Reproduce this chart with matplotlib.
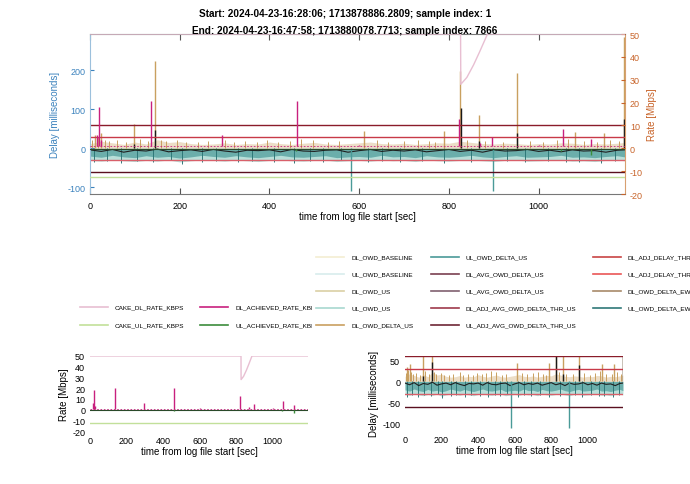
import matplotlib
matplotlib.use('Agg')
import matplotlib.pyplot as plt
import numpy as np

plt.rcParams['font.family'] = ['Liberation Sans', 'DejaVu Sans']
plt.rcParams['axes.unicode_minus'] = False

# ---- data ----
T_END = 1192.5

cake_dl_t = [0, 826, 826.5, 840, 855, 868, 886, T_END]
cake_dl_v = [50, 50, 28, 31, 36.5, 42, 50, 50]
cake_ul_v = -12.5

dl_ach_base = 0.8
dl_ach_t = [15, 20, 25, 136, 294, 461, 600, 822, 870, 895, 1000, 1055, 1116]
dl_ach_v = [6, 18, 3.5, 20.5, 5.7, 20.5, 1.5, 13, 2.5, 5, 1.5, 8.3, 4]
ul_ach_base = -0.2
ul_ach_t = [460, 1050, 1116]
ul_ach_v = [-1, -1.2, -3]

thr_dl_avg = 60      # DL_ADJ_AVG_OWD_DELTA_THR_US
thr_dl = 30          # DL_ADJ_DELAY_THR
thr_ul = -30         # UL_ADJ_DELAY_THR
thr_ul_avg = -60     # UL_ADJ_AVG_OWD_DELTA_THR_US

band_t = [0, 25, 50, 75, 100, 125, 150, 175, 200, 225, 250, 275, 300, 325, 350,
          375, 400, 425, 450, 475, 500, 525, 550, 575, 600, 625, 650, 675, 700,
          725, 750, 775, 800, 825, 850, 875, 900, 925, 950, 975, 1000, 1025,
          1050, 1075, 1100, 1125, 1150, 1175, 1192]
dl_delta_top = [12, 18, 14, 10, 16, 11, 22, 15, 17, 12, 10, 11, 14, 10, 12, 11,
                16, 12, 10, 13, 15, 11, 10, 12, 14, 16, 12, 11, 13, 10, 12, 14,
                13, 18, 15, 12, 11, 13, 12, 10, 12, 11, 14, 13, 10, 12, 11, 13, 15]
ul_delta_bot = [-20, -23, -18, -22, -24, -19, -23, -21, -25, -22, -18, -21, -23,
                -19, -22, -24, -21, -18, -22, -23, -21, -19, -24, -22, -21, -23,
                -18, -22, -21, -24, -19, -22, -23, -21, -18, -22, -24, -21, -19,
                -23, -22, -21, -18, -23, -22, -24, -21, -19, -22]
ul_us_bot = [-31, -33, -30, -32, -34, -31, -33, -30, -35, -32, -30, -31, -33, -30,
             -32, -34, -31, -30, -32, -33, -31, -30, -34, -32, -31, -33, -30, -32,
             -31, -34, -30, -32, -33, -31, -30, -32, -34, -31, -30, -33, -32, -31,
             -30, -33, -32, -34, -31, -30, -32]
dl_avg = [-4, -8, -3, -10, -5, -7, -2, -9, -6, -4, -8, -3, -7, -10, -5, -6, -4,
          -9, -3, -7, -8, -5, -4, -10, -6, -3, -8, -5, -7, -4, -9, -6, -3, -8,
          -5, -10, -4, -7, -6, -3, -8, -5, -9, -4, -7, -6, -10, -5, -4]

# small spikes in the delay band
small_up_t = [5, 18, 33, 42, 60, 80, 112, 130, 158, 170, 195, 215, 240, 262, 300,
              320, 345, 372, 395, 420, 445, 470, 498, 530, 555, 640, 665, 700, 730,
              755, 770, 840, 880, 920, 980, 1010, 1040, 1065, 1100, 1130, 1160, 1180]
small_up_v = [20, 28, 22, 18, 20, 16, 24, 18, 22, 18, 20, 16, 15, 18, 22, 16, 18,
              15, 20, 17, 19, 24, 22, 16, 18, 20, 17, 19, 21, 18, 16, 22, 18, 17,
              19, 16, 20, 24, 18, 17, 22, 18]
small_dn_t = [10, 38, 70, 105, 140, 180, 205, 250, 280, 330, 360, 410, 455, 490,
              520, 560, 620, 650, 690, 740, 790, 850, 930, 970, 1020, 1060, 1090,
              1140, 1170]
small_dn_v = [-36, -32, -38, -33, -35, -31, -40, -34, -32, -36, -33, -35, -37, -32,
              -34, -31, -36, -33, -35, -32, -38, -34, -33, -36, -32, -35, -34, -37, -33]

dl_spk_t = [12, 25, 98, 145, 610, 788, 824, 866, 951, 1080, 1145, 1190]
dl_spk_v = [35, 40, 62, 223, 44, 43, 197, 85, 192, 42, 40, 285]
blk_spk_t = [98, 145, 826, 866, 951, 1190]
blk_spk_v = [12, 46, 102, 18, 38, 74]
ul_spk_t = [581, 898]
ul_spk_v = [-110, -110]

# colours
C = {
    'CAKE_DL_RATE_KBPS': '#e8bfd2', 'CAKE_UL_RATE_KBPS': '#c2e09a',
    'DL_ACHIEVED_RATE_KBPS': '#c8207e', 'UL_ACHIEVED_RATE_KBPS': '#3c8c3c',
    'DL_OWD_BASELINE': '#f3edd2', 'UL_OWD_BASELINE': '#d8ecec',
    'DL_OWD_US': '#dacfa4', 'UL_OWD_US': '#a8d8d0', 'DL_OWD_DELTA_US': '#c9a060',
    'UL_OWD_DELTA_US': '#4a9a98', 'DL_AVG_OWD_DELTA_US': '#7a4050',
    'UL_AVG_OWD_DELTA_US': '#806070', 'DL_ADJ_AVG_OWD_DELTA_THR_US': '#9e3a4c',
    'UL_ADJ_AVG_OWD_DELTA_THR_US': '#6e2636', 'DL_ADJ_DELAY_THR': '#c84444',
    'UL_ADJ_DELAY_THR': '#ea5656', 'DL_OWD_DELTA_EWMA': '#a88a6a',
    'UL_OWD_DELTA_EWMA': '#2f7878',
}
BLUE = '#3b82bd'
ORANGE = '#c8642a'


def draw_delay(ax):
    ax.fill_between(band_t, ul_us_bot, 0, color=C['UL_OWD_US'], lw=0, alpha=0.8)
    ax.fill_between(band_t, ul_delta_bot, 0, color=C['UL_OWD_DELTA_US'], lw=0, alpha=0.7)
    ax.fill_between(band_t, 0, dl_delta_top, color=C['DL_OWD_DELTA_US'], lw=0, alpha=0.35)
    ax.vlines(small_dn_t, small_dn_v, 0, color=C['UL_OWD_DELTA_EWMA'], lw=0.7)
    ax.vlines(small_up_t, 0, small_up_v, color=C['DL_OWD_DELTA_US'], lw=0.7)
    ax.plot(band_t, dl_avg, color='#202020', lw=0.8)
    ax.vlines(dl_spk_t, 0, dl_spk_v, color=C['DL_OWD_DELTA_US'], lw=1.0)
    ax.vlines(blk_spk_t, 0, blk_spk_v, color='#1a1a1a', lw=1.0)
    ax.vlines(ul_spk_t, ul_spk_v, 0, color=C['UL_OWD_DELTA_US'], lw=1.0)
    ax.axhline(thr_dl_avg, color='#8a1c2a', lw=1.0)
    ax.axhline(thr_dl, color='#c83a48', lw=1.0)
    ax.axhline(thr_ul, color='#d8606a', lw=1.0)
    ax.axhline(thr_ul_avg, color='#5a1020', lw=1.0)


def draw_rate(ax):
    ax.plot(cake_dl_t, cake_dl_v, color=C['CAKE_DL_RATE_KBPS'], lw=1.0)
    ax.axhline(cake_ul_v, color=C['CAKE_UL_RATE_KBPS'], lw=1.0)
    ax.axhline(dl_ach_base, color=C['DL_ACHIEVED_RATE_KBPS'], lw=0.6, ls=(0, (2, 2)))
    ax.vlines(dl_ach_t, dl_ach_base, dl_ach_v, color=C['DL_ACHIEVED_RATE_KBPS'], lw=1.0)
    ax.axhline(ul_ach_base, color='#2a4a2a', lw=0.8)
    ax.vlines(ul_ach_t, ul_ach_base, ul_ach_v, color=C['UL_ACHIEVED_RATE_KBPS'], lw=1.0)


fig = plt.figure(figsize=(6.9, 4.85), dpi=100)
W, H = 690.0, 485.0

fig.text(0.5, 1 - 14 / H, 'Start: 2024-04-23-16:28:06; 1713878886.2809; sample index: 1',
         ha='center', va='center', fontsize=7.2, fontweight='bold')
fig.text(0.5, 1 - 31 / H, 'End: 2024-04-23-16:47:58; 1713880078.7713; sample index: 7866',
         ha='center', va='center', fontsize=7.2, fontweight='bold')

TICK = 6.5
LAB = 7

# ---- top combined plot ----
ax = fig.add_axes([90 / W, 1 - 195 / H, 535 / W, 160 / H])
ax2 = ax.twinx()
draw_delay(ax)
draw_rate(ax2)
ax.set_xlim(0, T_END)
ax.set_ylim(-117, 292.5)
ax2.set_ylim(-20, 50)
ax.set_xticks([0, 200, 400, 600, 800, 1000])
ax.set_yticks([-100, 0, 100, 200])
ax2.set_yticks([-20, -10, 0, 10, 20, 30, 40, 50])
ax.tick_params(axis='x', direction='in', top=True, length=4, labelsize=TICK, pad=5, color='#555555')
ax.tick_params(axis='y', direction='in', length=3, labelsize=TICK, colors=BLUE)
ax2.tick_params(axis='y', direction='in', length=3, labelsize=TICK, colors=ORANGE)
ax.set_ylabel('Delay [milliseconds]', color=BLUE, fontsize=LAB, labelpad=5)
ax2.set_ylabel('Rate [Mbps]', color=ORANGE, fontsize=LAB, labelpad=3)
ax.set_xlabel('time from log file start [sec]', fontsize=LAB, labelpad=1)
ax.spines['left'].set_color('#9cc0dc')
ax.spines['bottom'].set_color('#777777')
ax.spines['top'].set_color('#777777')
ax.spines['right'].set_color('#d8a070')
for s in ax2.spines.values():
    s.set_visible(False)

# ---- bottom-left rate plot ----
bl = fig.add_axes([90 / W, 1 - 432 / H, 218 / W, 75 / H])
draw_rate(bl)
bl.set_xlim(0, T_END)
bl.set_ylim(-20, 50)
bl.set_xticks([0, 200, 400, 600, 800, 1000])
bl.set_yticks([-20, -10, 0, 10, 20, 30, 40, 50])
bl.tick_params(length=0, labelsize=TICK)
bl.set_ylabel('Rate [Mbps]', fontsize=LAB, labelpad=2)
bl.set_xlabel('time from log file start [sec]', fontsize=LAB, labelpad=1)
for s in bl.spines.values():
    s.set_visible(False)

# ---- bottom-right delay plot ----
br = fig.add_axes([405 / W, 1 - 431 / H, 218 / W, 74 / H])
draw_delay(br)
br.set_xlim(0, T_END)
br.set_ylim(-115, 60)
br.set_xticks([0, 200, 400, 600, 800, 1000])
br.set_yticks([-100, -50, 0, 50])
br.tick_params(length=0, labelsize=TICK)
br.set_ylabel('Delay [milliseconds]', fontsize=LAB, labelpad=2)
br.set_xlabel('time from log file start [sec]', fontsize=LAB, labelpad=1)
for s in br.spines.values():
    s.set_visible(False)

# ---- legends (drawn in pixel coordinates, clipped like the original) ----
left_items = [('CAKE_DL_RATE_KBPS', 80, 308), ('CAKE_UL_RATE_KBPS', 80, 326),
              ('DL_ACHIEVED_RATE_KBPS', 200, 308), ('UL_ACHIEVED_RATE_KBPS', 200, 326)]
right_cols = [
    ['DL_OWD_BASELINE', 'UL_OWD_BASELINE', 'DL_OWD_US', 'UL_OWD_US', 'DL_OWD_DELTA_US'],
    ['UL_OWD_DELTA_US', 'DL_AVG_OWD_DELTA_US', 'UL_AVG_OWD_DELTA_US',
     'DL_ADJ_AVG_OWD_DELTA_THR_US', 'UL_ADJ_AVG_OWD_DELTA_THR_US'],
    ['DL_ADJ_DELAY_THR', 'UL_ADJ_DELAY_THR', 'DL_OWD_DELTA_EWMA', 'UL_OWD_DELTA_EWMA'],
]
col_x = [316, 431, 593]
row_y = [258, 275, 292, 309, 326]

lax = fig.add_axes([0, 0, 312 / W, 1])
lax.set_xlim(0, 312)
lax.set_ylim(H, 0)
lax.axis('off')
for name, x0, y0 in left_items:
    lax.plot([x0, x0 + 28], [y0, y0], color=C[name], lw=1.2)
    lax.text(x0 + 35, y0, name, fontsize=4.6, va='center', ha='left', clip_on=True)

rax = fig.add_axes([312 / W, 0, 378 / W, 1])
rax.set_xlim(312, W)
rax.set_ylim(H, 0)
rax.axis('off')
for x0, col in zip(col_x, right_cols):
    for y0, name in zip(row_y, col):
        rax.plot([x0, x0 + 28], [y0, y0], color=C[name], lw=1.2)
        rax.text(x0 + 35, y0, name, fontsize=4.6, va='center', ha='left', clip_on=True)

fig.savefig('out.png', dpi=100)
